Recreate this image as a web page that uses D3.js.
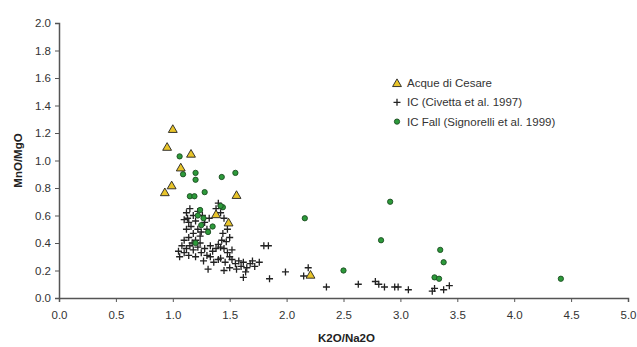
<!DOCTYPE html>
<html>
<head>
<meta charset="utf-8">
<script src="https://cdn.jsdelivr.net/npm/d3@7"></script>
<style>
  body { margin: 0; background: #fff; }
  text { font-family: "Liberation Sans", Arial, sans-serif; }
</style>
</head>
<body>
<div id="chart"></div>
<script>
let width = 637;
let height = 347;

// Acque di Cesare [K2O/Na2O, MnO/MgO]
let acque = [
  [1.00, 1.23], [0.95, 1.10], [1.16, 1.05], [1.07, 0.95], [0.99, 0.82],
  [0.93, 0.77], [1.56, 0.75], [1.38, 0.61], [1.49, 0.55], [2.21, 0.17]
];

// IC (Civetta et al. 1997)
let civetta = [
  [1.12, 0.62], [1.15, 0.65], [1.18, 0.60], [1.10, 0.57], [1.14, 0.55], [1.20, 0.56],
  [1.16, 0.52], [1.22, 0.50], [1.12, 0.50], [1.18, 0.47], [1.24, 0.45], [1.14, 0.44],
  [1.20, 0.42], [1.10, 0.42], [1.26, 0.60], [1.28, 0.55], [1.30, 0.50], [1.25, 0.48],
  [1.32, 0.58], [1.22, 0.63], [1.08, 0.38], [1.12, 0.36], [1.05, 0.34], [1.10, 0.33],
  [1.15, 0.38], [1.18, 0.35], [1.22, 0.37], [1.25, 0.33], [1.20, 0.30], [1.28, 0.36],
  [1.30, 0.31], [1.14, 0.31], [1.06, 0.30], [1.35, 0.34], [1.38, 0.36], [1.42, 0.37],
  [1.40, 0.39], [1.38, 0.65], [1.40, 0.69], [1.42, 0.62], [1.45, 0.58], [1.48, 0.50],
  [1.44, 0.47], [1.50, 0.44], [1.47, 0.41], [1.43, 0.42], [1.45, 0.36], [1.48, 0.33],
  [1.50, 0.30], [1.42, 0.29], [1.46, 0.26], [1.52, 0.28], [1.55, 0.25], [1.58, 0.27],
  [1.60, 0.23], [1.62, 0.26], [1.65, 0.22], [1.68, 0.25], [1.56, 0.21], [1.50, 0.22],
  [1.70, 0.27], [1.72, 0.23], [1.64, 0.19], [1.36, 0.26], [1.40, 0.28], [1.33, 0.30],
  [1.31, 0.21], [1.45, 0.20], [1.62, 0.15], [1.76, 0.26], [1.80, 0.38], [1.84, 0.38],
  [1.85, 0.14], [1.99, 0.19], [2.15, 0.16], [2.19, 0.22], [2.35, 0.08], [2.63, 0.10],
  [2.78, 0.12], [2.81, 0.10], [2.86, 0.08], [2.95, 0.08], [2.98, 0.08], [3.07, 0.06],
  [3.28, 0.05], [3.30, 0.07], [3.38, 0.06], [3.43, 0.09],
  [1.13, 0.58], [1.17, 0.40], [1.24, 0.40], [1.33, 0.38], [1.27, 0.27], [1.52, 0.35]
];

// IC Fall (Signorelli et al. 1999)
let fall = [
  [1.06, 1.03], [1.09, 0.90], [1.20, 0.91], [1.20, 0.86], [1.43, 0.88], [1.55, 0.91],
  [1.28, 0.77], [1.15, 0.74], [1.19, 0.74], [1.44, 0.66], [1.42, 0.67], [1.24, 0.64],
  [1.27, 0.58], [1.22, 0.60], [1.31, 0.48], [1.35, 0.52], [1.25, 0.53], [1.20, 0.40],
  [2.16, 0.58], [2.91, 0.70], [2.83, 0.42], [3.35, 0.35], [3.38, 0.26], [3.30, 0.15],
  [3.34, 0.14], [2.50, 0.20], [4.41, 0.14]
];

let xTicks = [0, 0.5, 1, 1.5, 2, 2.5, 3, 3.5, 4, 4.5, 5];
let yTicks = [0, 0.2, 0.4, 0.6, 0.8, 1.0, 1.2, 1.4, 1.6, 1.8, 2.0];

let svg = d3.select('#chart').append('svg')
  .attr('width', width)
  .attr('height', height);

let x = d3.scaleLinear().domain([0, 5]).range([59, 628]);
let y = d3.scaleLinear().domain([0, 2]).range([298, 23]);

let axisColor = '#555';

// x axis
let gx = svg.append('g')
  .attr('transform', 'translate(0,' + y(0) + ')')
  .call(d3.axisBottom(x).tickValues(xTicks).tickFormat(d3.format('.1f')).tickSize(4).tickPadding(9));
gx.select('.domain').attr('stroke', axisColor).attr('stroke-width', 1.5);
gx.selectAll('.tick line').attr('stroke', axisColor);
gx.selectAll('.tick text').attr('fill', '#333').style('font-size', '11.5px');

// y axis
let gy = svg.append('g')
  .attr('transform', 'translate(' + x(0) + ',0)')
  .call(d3.axisLeft(y).tickValues(yTicks).tickFormat(d3.format('.1f')).tickSize(4).tickPadding(4));
gy.select('.domain').attr('stroke', axisColor).attr('stroke-width', 1.5);
gy.selectAll('.tick line').attr('stroke', axisColor);
gy.selectAll('.tick text').attr('fill', '#333').style('font-size', '11.5px');

// titles
svg.append('text')
  .attr('x', (x(0) + x(5)) / 2 + 3)
  .attr('y', 342)
  .attr('text-anchor', 'middle')
  .style('font-size', '11.5px')
  .style('font-weight', 'bold')
  .attr('fill', '#222')
  .text('K2O/Na2O');

svg.append('text')
  .attr('transform', 'translate(22,' + y(1.0) + ') rotate(-90)')
  .attr('text-anchor', 'middle')
  .style('font-size', '11.5px')
  .style('font-weight', 'bold')
  .attr('fill', '#222')
  .text('MnO/MgO');

let tri = d3.symbol().type(d3.symbolTriangle).size(34);
let dot = d3.symbol().type(d3.symbolCircle).size(22);

function cross(g, size) {
  g.append('path')
    .attr('d', 'M' + (-size) + ',0H' + size + 'M0,' + (-size) + 'V' + size)
    .attr('stroke', '#222')
    .attr('stroke-width', 1.3)
    .attr('fill', 'none');
}

// crosses
svg.append('g').selectAll('g')
  .data(civetta)
  .enter().append('g')
  .attr('transform', d => 'translate(' + x(d[0]) + ',' + y(d[1]) + ')')
  .each(function() { cross(d3.select(this), 3.5); });

// green IC Fall
svg.append('g').selectAll('path')
  .data(fall)
  .enter().append('path')
  .attr('d', dot)
  .attr('transform', d => 'translate(' + x(d[0]) + ',' + y(d[1]) + ')')
  .attr('fill', '#2c9a3a')
  .attr('stroke', '#1d4d22')
  .attr('stroke-width', 0.9);

// triangles
svg.append('g').selectAll('path')
  .data(acque)
  .enter().append('path')
  .attr('d', tri)
  .attr('transform', d => 'translate(' + x(d[0]) + ',' + (y(d[1]) + 1) + ')')
  .attr('fill', '#e8c42a')
  .attr('stroke', '#222')
  .attr('stroke-width', 0.9);

// legend
let legend = [
  { name: 'Acque di Cesare', kind: 'tri' },
  { name: 'IC (Civetta et al. 1997)', kind: 'cross' },
  { name: 'IC Fall (Signorelli et al. 1999)', kind: 'dot' }
];
let lg = svg.append('g').attr('transform', 'translate(397,83)');
legend.forEach(function(l, i) {
  let row = lg.append('g').attr('transform', 'translate(0,' + (i * 19.3) + ')');
  if (l.kind === 'tri') {
    row.append('path').attr('d', tri).attr('transform', 'translate(0,1)')
      .attr('fill', '#e8c42a').attr('stroke', '#222').attr('stroke-width', 0.9);
  } else if (l.kind === 'cross') {
    cross(row, 3.5);
  } else {
    row.append('path').attr('d', dot)
      .attr('fill', '#2c9a3a').attr('stroke', '#1d4d22').attr('stroke-width', 0.9);
  }
  row.append('text')
    .attr('x', 10)
    .attr('y', 4)
    .style('font-size', '11.5px')
    .attr('fill', '#333')
    .text(l.name);
});
</script>
</body>
</html>
